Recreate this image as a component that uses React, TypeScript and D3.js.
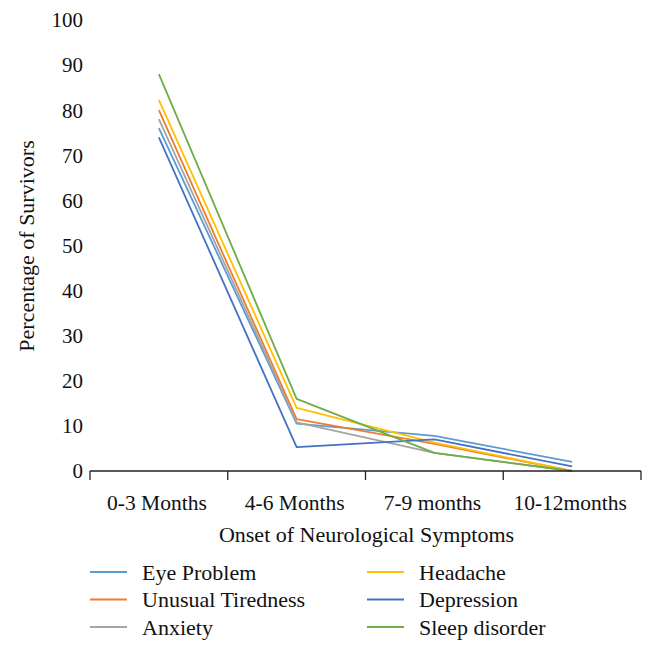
import React from "react";
import * as d3 from "d3";

const categories = ["0-3 Months", "4-6 Months", "7-9 months", "10-12months"];
const seriesNames = ["Eye Problem", "Unusual Tiredness", "Anxiety", "Headache", "Depression", "Sleep disorder"];
const eyeProblem = [76, 10.5, 7.8, 2];
const unusualTiredness = [80, 11.5, 6, 0];
const anxiety = [78, 10.8, 4, 0];
const headache = [82.3, 14, 6.3, 0];
const depression = [74, 5.3, 7, 1];
const sleepDisorder = [88, 16, 4, 0];
const colors = ["#5B9BD5", "#ED7D31", "#A5A5A5", "#FFC000", "#4472C4", "#70AD47"];
const yTicks = [0, 10, 20, 30, 40, 50, 60, 70, 80, 90, 100];

const seriesValues = [eyeProblem, unusualTiredness, anxiety, headache, depression, sleepDisorder];

export default function App() {
  const W = 656, H = 655;
  const left = 90, right = 641, top = 20, bottom = 471;
  const x = d3.scaleBand<string>().domain(categories).range([left, right]);
  const y = d3.scaleLinear().domain([0, 100]).range([bottom, top]);
  const line = d3
    .line<number>()
    .x((_, i) => (x(categories[i]) as number) + x.bandwidth() / 2)
    .y((d) => y(d));
  const font = "'Liberation Serif', 'Times New Roman', serif";
  const boundaries = [...categories.map((c) => x(c) as number), right];

  return (
    <svg width={W} height={H} style={{ position: "absolute", left: 0, top: 0 }} fontFamily={font}>
      <rect width={W} height={H} fill="#fff" />
      {yTicks.map((t) => (
        <text key={t} x={83} y={y(t)} dy="0.35em" textAnchor="end" fontSize={21} fill="#111">
          {t}
        </text>
      ))}
      <text
        transform={`translate(34,246) rotate(-90)`}
        textAnchor="middle"
        fontSize={22}
        fill="#111"
      >
        Percentage of Survivors
      </text>
      {seriesValues.map((vals, i) => (
        <path key={i} d={line(vals) || ""} fill="none" stroke={colors[i]} strokeWidth={1.8} strokeLinejoin="round" />
      ))}
      <line x1={left} x2={right} y1={bottom} y2={bottom} stroke="#222" strokeWidth={1.3} />
      {boundaries.map((b, i) => (
        <line key={i} x1={b} x2={b} y1={bottom} y2={bottom + 9} stroke="#222" strokeWidth={1.3} />
      ))}
      {categories.map((c) => (
        <text key={c} x={(x(c) as number) + x.bandwidth() / 2 - 2} y={510} textAnchor="middle" fontSize={21.5} fill="#111">
          {c}
        </text>
      ))}
      <text x={(left + right) / 2 + 1} y={542} textAnchor="middle" fontSize={22} fill="#111">
        Onset of Neurological Symptoms
      </text>
      {seriesNames.map((name, i) => {
        const col = Math.floor(i / 3);
        const row = i % 3;
        const lx = col === 0 ? 90 : 367;
        const ly = 572 + row * 27.5;
        return (
          <g key={name}>
            <line x1={lx} x2={lx + 37} y1={ly} y2={ly} stroke={colors[i]} strokeWidth={1.8} />
            <text x={lx + 52} y={ly} dy="0.35em" fontSize={22} fill="#111">
              {name}
            </text>
          </g>
        );
      })}
    </svg>
  );
}
